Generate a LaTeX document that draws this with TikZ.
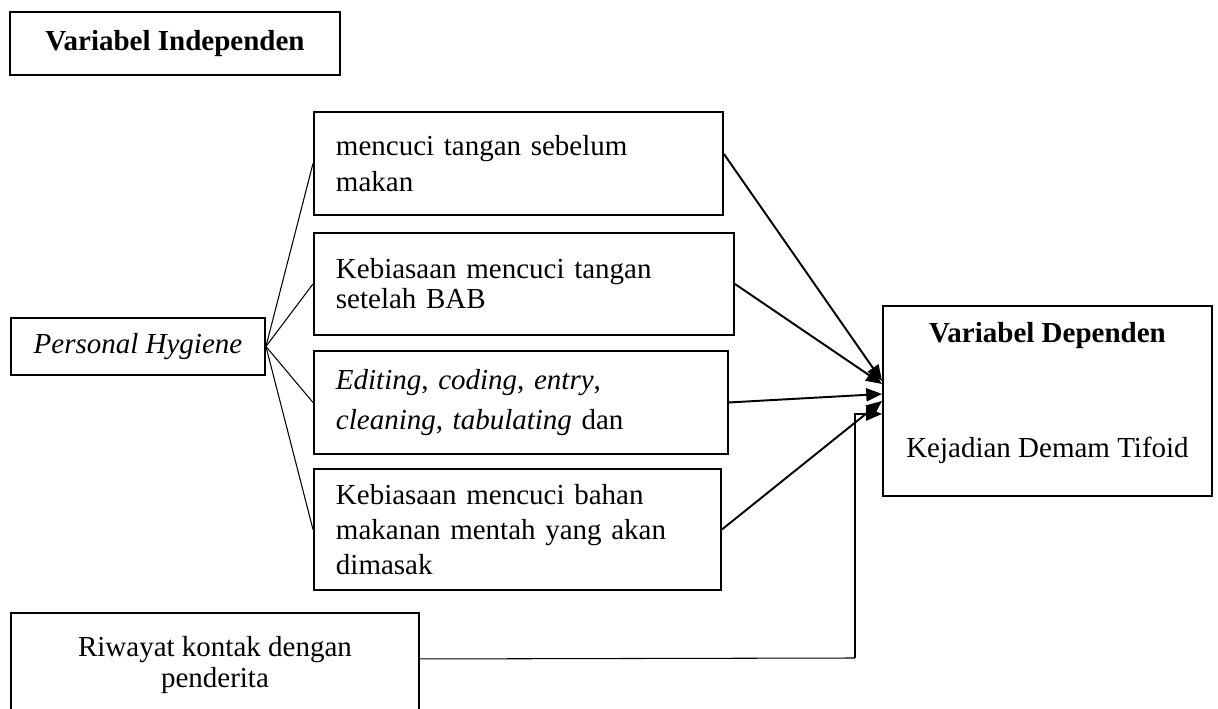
\documentclass[tikz,border=0pt]{standalone}
\usepackage{fontspec}
\setmainfont{Liberation Serif}
\usetikzlibrary{positioning,arrows.meta,calc}

\tikzset{
    kotak/.style={draw, line width=1.1pt, inner xsep=0.44cm},
    faktor/.style={kotak, anchor=north west, align=left},
    garis/.style={line width=0.6pt},
    panah/.style={line width=1.1pt, -{Triangle[length=9pt,width=7.5pt]}}
}

\begin{document}
\begin{tikzpicture}[font=\fontsize{16.5}{18.8}\selectfont]
    \clip (0,0) rectangle (24.36,-14.18);
    \node[kotak, anchor=north west, minimum width=6.6cm, minimum height=1.26cm] (indep) at (0.18,-0.22) {\textbf{Variabel Independen}};
    \node[kotak, anchor=north west, minimum width=5.08cm, minimum height=1.14cm, inner xsep=0pt] (hygiene) at (0.2,-6.34) {\textit{Personal Hygiene}};
    \node[faktor, text width=7.3cm, minimum height=2.06cm] (k1) at (6.26,-2.22) {mencuci tangan sebelum\\[0.06cm] makan};
    \node[faktor, text width=7.52cm, minimum height=2.04cm] (k2) at (6.26,-4.64) {Kebiasaan mencuci tangan\\[-0.06cm] setelah BAB};
    \node[faktor, text width=7.4cm, minimum height=2.06cm] (k3) at (6.26,-7.0) {\textit{Editing}, \textit{coding}, \textit{entry},\\[0.14cm] \textit{cleaning}, \textit{tabulating} dan};
    \node[faktor, text width=7.26cm, minimum height=2.42cm] (k4) at (6.26,-9.36) {Kebiasaan mencuci bahan\\[0.04cm] makanan mentah yang akan\\[0.04cm] dimasak};
    \node[kotak, anchor=north west, minimum width=6.58cm, minimum height=3.8cm, align=center] (dep) at (17.64,-6.1) {\textbf{Variabel Dependen}\\[1.64cm] Kejadian Demam Tifoid\\[-0.21cm] \mbox{}};
    \node[kotak, anchor=north west, minimum width=8.16cm, minimum height=2.08cm, align=center] (riwayat) at (0.2,-12.24) {Riwayat kontak dengan\\[-0.04cm] penderita};

    \foreach \k in {k1,k2,k3,k4}
        \draw[garis] (hygiene.east) -- (\k.west);

    \draw[panah] ($(k1.east)+(0,0.19)$) -- ($(dep.west)+(0,0.4)$);
    \draw[panah] (k2.east) -- ($(dep.west)+(0,0.34)$);
    \draw[panah] (k3.east) -- ($(dep.west)+(0,0.14)$);
    \draw[panah] (k4.east) -- ($(dep.west)+(0,0)$);

    \coordinate (belok) at (17.1,-13.16);
    \draw[garis] ($(riwayat.east)+(0,0.12)$) -- (belok);
    \draw[panah] (belok) |- ($(dep.west)+(0,-0.26)$);
\end{tikzpicture}
\end{document}
